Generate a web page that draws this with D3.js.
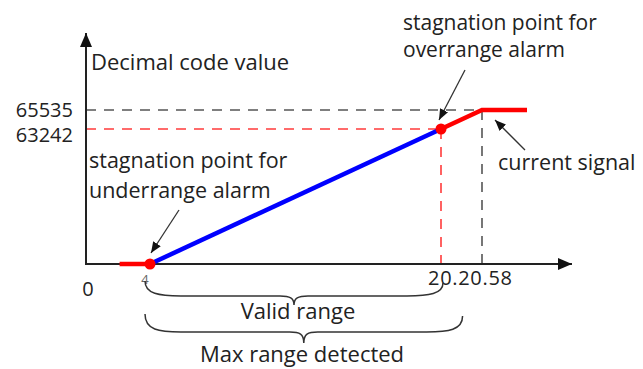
<!DOCTYPE html>
<html>
<head>
<meta charset="utf-8">
<script src="https://cdn.jsdelivr.net/npm/d3@7"></script>
<style>
  body { margin: 0; background: #fff; }
  text { font-family: "Open Sans", "Noto Sans", sans-serif; fill: #222; }
</style>
</head>
<body>
<div class="chart"></div>
<script>
// data (schematic: current in mA vs decimal code)
var underrange = [[2.1, 0], [4, 0]];
var validRange = [[4, 0], [20.2, 63242]];
var overrange = [[20.2, 63242], [20.58, 65535], [21.2, 65535]];
var xTickLabels = [{ v: 0, t: "0" }, { v: 4, t: "4" }, { v: 20.2, t: "20.20.58" }];
var yTickLabels = [{ v: 65535, t: "65535" }, { v: 63242, t: "63242" }];

var width = 643, height = 369;

var svg = d3.select(".chart")
    .append("svg")
    .attr("width", width)
    .attr("height", height);

// piecewise scales, the drawing is not to scale
var x = d3.scaleLinear()
    .domain([0, 4, 20.2, 20.58, 21.2])
    .range([86, 150, 441, 482, 527]);
var y = d3.scaleLinear()
    .domain([0, 63242, 65535])
    .range([264, 129, 110]);

var defs = svg.append("defs");
defs.append("marker")
    .attr("id", "axisHead")
    .attr("viewBox", "0 0 14 12")
    .attr("refX", 14).attr("refY", 6)
    .attr("markerWidth", 14).attr("markerHeight", 12)
    .attr("markerUnits", "userSpaceOnUse")
    .attr("orient", "auto")
    .append("path").attr("d", "M0,0 L14,6 L0,12 Z").attr("fill", "#111");
defs.append("marker")
    .attr("id", "noteHead")
    .attr("viewBox", "0 0 11 9")
    .attr("refX", 11).attr("refY", 4.5)
    .attr("markerWidth", 11).attr("markerHeight", 9)
    .attr("markerUnits", "userSpaceOnUse")
    .attr("orient", "auto")
    .append("path").attr("d", "M0,0 L11,4.5 L0,9 Z").attr("fill", "#111");

// dashed guide lines
var lastOver = overrange[1];
svg.append("line")
    .attr("x1", x(0)).attr("x2", x(lastOver[0]))
    .attr("y1", y(65535)).attr("y2", y(65535))
    .attr("stroke", "#555").attr("stroke-width", 1.6).attr("stroke-dasharray", "10,8");
svg.append("line")
    .attr("x1", x(lastOver[0])).attr("x2", x(lastOver[0]))
    .attr("y1", y(65535)).attr("y2", y(0))
    .attr("stroke", "#555").attr("stroke-width", 1.6).attr("stroke-dasharray", "10,8");
svg.append("line")
    .attr("x1", x(0)).attr("x2", x(20.2))
    .attr("y1", y(63242)).attr("y2", y(63242))
    .attr("stroke", "#ff3b3b").attr("stroke-width", 1.6).attr("stroke-dasharray", "10,8");
svg.append("line")
    .attr("x1", x(20.2)).attr("x2", x(20.2))
    .attr("y1", y(63242)).attr("y2", y(0))
    .attr("stroke", "#ff3b3b").attr("stroke-width", 1.6).attr("stroke-dasharray", "10,8");

// axes
svg.append("line")
    .attr("x1", x(0)).attr("x2", x(0))
    .attr("y1", y(0) + 1).attr("y2", 33)
    .attr("stroke", "#222").attr("stroke-width", 2)
    .attr("marker-end", "url(#axisHead)");
svg.append("line")
    .attr("x1", x(0) - 1).attr("x2", 572)
    .attr("y1", y(0)).attr("y2", y(0))
    .attr("stroke", "#222").attr("stroke-width", 2)
    .attr("marker-end", "url(#axisHead)");

// signal
var line = d3.line()
    .x(function (d) { return x(d[0]); })
    .y(function (d) { return y(d[1]); });
svg.append("path").datum(underrange)
    .attr("d", line).attr("fill", "none")
    .attr("stroke", "#ff0000").attr("stroke-width", 4.5);
svg.append("path").datum(validRange)
    .attr("d", line).attr("fill", "none")
    .attr("stroke", "#0000ff").attr("stroke-width", 4.5);
svg.append("path").datum(overrange)
    .attr("d", line).attr("fill", "none")
    .attr("stroke", "#ff0000").attr("stroke-width", 4.5);
svg.selectAll(".stag")
    .data([validRange[0], validRange[1]])
    .enter().append("circle")
    .attr("cx", function (d) { return x(d[0]); })
    .attr("cy", function (d) { return y(d[1]); })
    .attr("r", 5.5)
    .attr("fill", "#ff0000");

// tick labels
svg.selectAll(".ylab")
    .data(yTickLabels)
    .enter().append("text")
    .attr("x", 73)
    .attr("y", function (d) { return d.v == 65535 ? 117 : 142; })
    .attr("text-anchor", "end")
    .style("font-size", "20px")
    .text(function (d) { return d.t; });
svg.append("text")
    .attr("x", x(0) + 2).attr("y", 296)
    .attr("text-anchor", "middle")
    .style("font-size", "20px")
    .text(xTickLabels[0].t);
svg.append("text")
    .attr("x", x(4) - 5).attr("y", 284)
    .attr("text-anchor", "middle")
    .style("font-size", "13px").style("fill", "#666")
    .text(xTickLabels[1].t);
svg.append("text")
    .attr("x", x(20.2) - 13).attr("y", 285)
    .style("font-size", "20px")
    .attr("textLength", 84)
    .text(xTickLabels[2].t);

// titles and notes
svg.append("text")
    .attr("x", 91).attr("y", 70)
    .style("font-size", "22px")
    .text("Decimal code value");

function note(lines, x0, y0, gap, size) {
    var t = svg.append("text").attr("x", x0).attr("y", y0).style("font-size", size + "px");
    lines.forEach(function (s, i) {
        t.append("tspan").attr("x", x0).attr("dy", i ? gap : 0).text(s);
    });
}
note(["stagnation point for", "overrange alarm"], 403, 30, 27, 21);
note(["stagnation point for", "underrange alarm"], 89, 168, 30, 21.5);
svg.append("text")
    .attr("x", 498).attr("y", 170)
    .style("font-size", "21.5px")
    .text("current signal");

function arrow(x1, y1, x2, y2) {
    svg.append("line")
        .attr("x1", x1).attr("y1", y1).attr("x2", x2).attr("y2", y2)
        .attr("stroke", "#333").attr("stroke-width", 1.3)
        .attr("marker-end", "url(#noteHead)");
}
arrow(465, 70, x(20.2) - 2, y(63242) - 9);
arrow(179, 210, x(4) + 1, y(0) - 11);
arrow(525, 150, 495, 120);

// braces
function brace(x0, x1, y0, h) {
    var m = (x0 + x1) / 2, yl = y0 + h * 0.62;
    var p = d3.path();
    p.moveTo(x0, y0);
    p.bezierCurveTo(x0, yl - 2, x0 + 14, yl, x0 + 36, yl);
    p.lineTo(m - 14, yl);
    p.bezierCurveTo(m - 4, yl, m, yl + 2, m, y0 + h);
    p.bezierCurveTo(m, yl + 2, m + 4, yl, m + 14, yl);
    p.lineTo(x1 - 36, yl);
    p.bezierCurveTo(x1 - 14, yl, x1, yl - 2, x1, y0 + 2);
    svg.append("path").attr("d", p.toString())
        .attr("fill", "none").attr("stroke", "#333").attr("stroke-width", 1.5);
}
brace(x(4) - 5, x(20.2) + 2, 281, 24);
brace(x(4) - 5, x(20.4), 314, 29);

svg.append("text")
    .attr("x", 298).attr("y", 319)
    .attr("text-anchor", "middle")
    .style("font-size", "22px")
    .text("Valid range");
svg.append("text")
    .attr("x", 302).attr("y", 362)
    .attr("text-anchor", "middle")
    .style("font-size", "22px")
    .text("Max range detected");
</script>
</body>
</html>
